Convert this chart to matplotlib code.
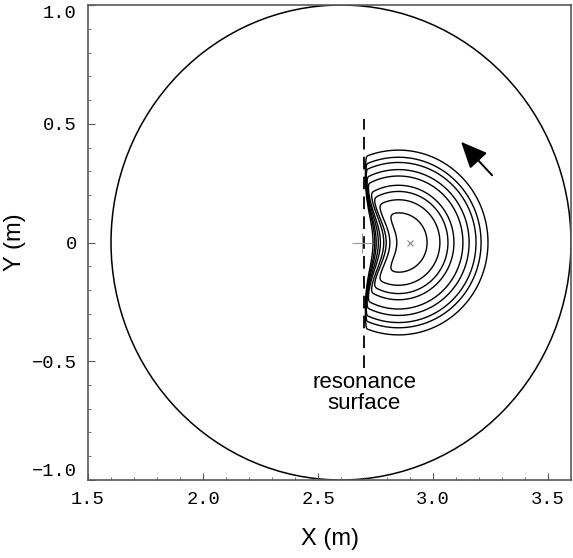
import matplotlib
matplotlib.use('Agg')
import matplotlib.pyplot as plt
import matplotlib.patches as mpatches
import numpy as np

# Plasma boundary (centre, minor radius) and resonance surface.
boundary_centre = (2.6, 0.0)
boundary_radius = 1.0
x_res = 2.70
res_extent = [-0.53, 0.52]

# Beam focus marker and the centre / radii of the contour arcs.
focus = (2.90, 0.0)
arc_centre = (2.85, 0.0)
contour_radii = [0.125, 0.180, 0.215, 0.241, 0.280, 0.307, 0.337, 0.359, 0.389]

# Arrow (tail -> head) showing the direction of the beam.
arrow_tail = (3.257, 0.283)
arrow_head = (3.122, 0.424)

x_ticks = [1.5, 2.0, 2.5, 3.0, 3.5]
x_ticklabels = ['1.5', '2.0', '2.5', '3.0', '3.5']
y_ticks = [-1.0, -0.5, 0.0, 0.5, 1.0]
y_ticklabels = ['\u22121.0', '\u22120.5', '0', '0.5', '1.0']


if __name__ == '__main__':
    # Model field: gaussian beam, absorbed at the resonance surface.
    w = 0.25
    xg = np.linspace(2.6, 3.4, 500)
    yg = np.linspace(-0.6, 0.6, 600)
    X, Y = np.meshgrid(xg, yg)
    G = np.exp(-((X - arc_centre[0]) ** 2 + (Y - arc_centre[1]) ** 2) / w ** 2)
    delta = 0.006 + 0.11 * np.exp(-(Y / 0.14) ** 2)
    u = np.clip(X - x_res, 0, None)
    E = G * (1.0 - np.exp(-(u / delta) ** 2))
    levels = np.sort(np.exp(-(np.array(contour_radii) / w) ** 2))

    fig = plt.figure(figsize=(5.73, 5.58), dpi=100)
    ax = fig.add_axes([0.1536, 0.1398, 0.8429, 0.8512])

    ax.add_patch(mpatches.Circle(boundary_centre, boundary_radius, fill=False,
                                 lw=1.1, color='black'))
    ax.contour(X, Y, E, levels=levels, colors='black', linewidths=1.0)
    ax.plot([x_res, x_res], res_extent, color='black', lw=1.3,
            dashes=(7, 4))
    ax.plot([x_res - 0.01], [0], marker='+', ms=14, mew=0.8, color='0.6')
    ax.plot([focus[0]], [focus[1]], marker='x', ms=5, mew=0.8, color='0.5')
    ax.annotate('', xy=arrow_head, xytext=arrow_tail,
                arrowprops=dict(arrowstyle='-|>,head_length=0.9,head_width=0.4',
                                color='black', lw=1.4, mutation_scale=18,
                                shrinkA=0, shrinkB=0))
    ax.text(x_res, -0.634, 'resonance\nsurface', ha='center', va='center',
            fontsize=16, family='Liberation Sans', linespacing=1.05)

    ax.set_xlim(1.5, 3.6)
    ax.set_ylim(-1.0, 1.0)
    ax.set_xticks(x_ticks)
    ax.set_xticklabels(x_ticklabels)
    ax.set_yticks(y_ticks)
    ax.set_yticklabels(y_ticklabels)
    ax.set_xticks(np.arange(1.5, 3.61, 0.1), minor=True)
    ax.set_yticks(np.arange(-1.0, 1.01, 0.1), minor=True)
    for lab in ax.get_xticklabels() + ax.get_yticklabels():
        lab.set_family('Liberation Mono')
        lab.set_fontsize(13.5)
    ylabs = ax.get_yticklabels()
    ylabs[0].set_va('bottom')
    ylabs[-1].set_va('top')
    ax.tick_params(which='both', direction='in', colors='0.35',
                   labelcolor='black', top=False, right=False)
    ax.tick_params(which='major', length=5, width=0.8, pad=8)
    ax.tick_params(which='minor', length=2.5, width=0.6)
    for s in ax.spines.values():
        s.set_color('0.35')
        s.set_linewidth(1.2)

    ax.set_xlabel('X (m)', fontsize=17, family='Liberation Sans', labelpad=14)
    ax.set_ylabel('Y (m)', fontsize=17, family='Liberation Sans', labelpad=4)

    fig.savefig('out.png', dpi=100)
    plt.close(fig)
